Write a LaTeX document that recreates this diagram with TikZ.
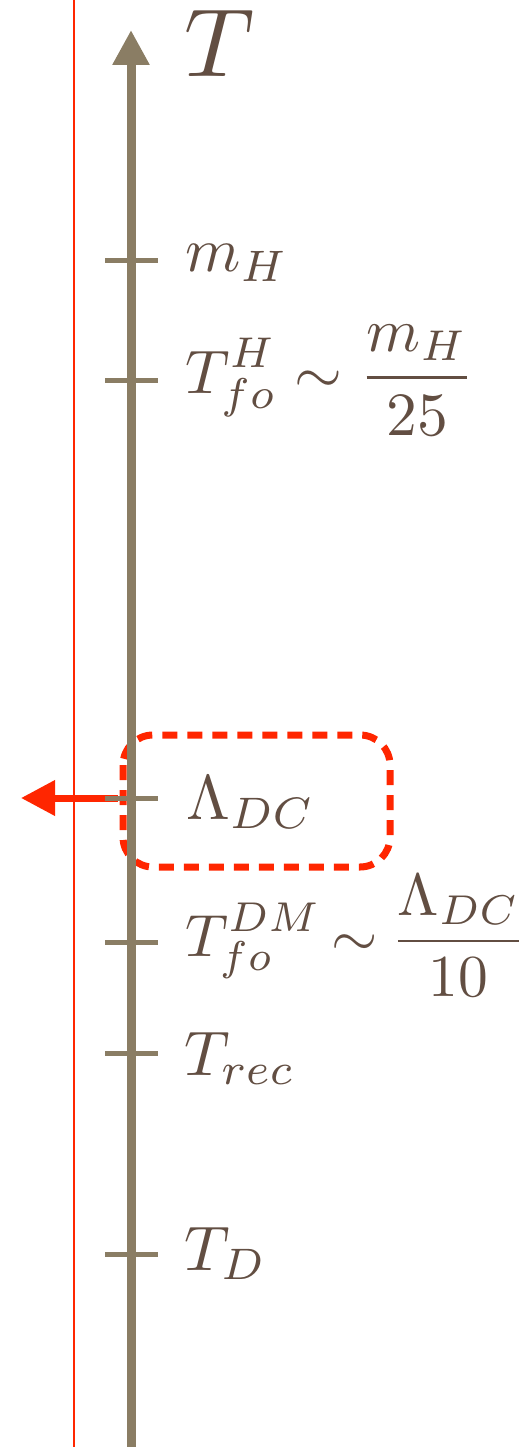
\documentclass[tikz,border=0pt]{standalone}
\usepackage{amsmath}
\usepackage{graphicx}
\usetikzlibrary{arrows.meta}
\definecolor{axiscol}{RGB}{138,125,100}
\definecolor{txtcol}{RGB}{98,78,66}
\definecolor{redcol}{RGB}{255,38,0}
\newcommand{\lblsz}[1]{\scalebox{6.3}{#1}}
\newcommand{\fracsz}[1]{\scalebox{5.95}{#1}}
\newcommand{\fracHsz}[1]{\scalebox{6.15}{#1}}
\newcommand{\bigsz}[1]{\scalebox{9.7}{#1}}
\begin{document}
\begin{tikzpicture}[x=1pt,y=-1pt,
  lbl/.style={anchor=base west,inner sep=0pt,text=txtcol},
  tick/.style={draw=axiscol,line width=5pt},
  axisline/.style={draw=axiscol,line width=9pt,-{Triangle[length=35pt,width=35pt]}},
  redthin/.style={draw=redcol,line width=2pt},
  redarrow/.style={draw=redcol,line width=7pt,-{Triangle[length=34pt,width=34pt]}},
  dashbox/.style={draw=redcol,line width=7pt,dash pattern=on 15pt off 10pt,rounded corners=30pt}]
\useasboundingbox (0,0) rectangle (523,1447);
% coordinates
\coordinate (redtop) at (74,0);
\coordinate (redbot) at (74,1447);
\coordinate (axbot) at (131,1447);
\coordinate (axtop) at (131,30);
\coordinate (arrstart) at (118,798);
\coordinate (arrend) at (21,798);
\coordinate (boxa) at (123,735);
\coordinate (boxb) at (390,867);
\foreach \n/\y in {mh/260,tfh/380,ldc/798,tfdm/942,trec/1053,td/1254}{
  \coordinate (\n L) at (105,\y);
  \coordinate (\n R) at (158,\y);
}
% red vertical line
\draw[redthin] (redtop) -- (redbot);
% red arrow
\draw[redarrow] (arrstart) -- (arrend);
% dashed box
\draw[dashbox] (boxa) rectangle (boxb);
% axis
\draw[axisline] (axbot) -- (axtop);
% ticks
\foreach \n in {mh,tfh,ldc,tfdm,trec,td}{
  \draw[tick] (\n L) -- (\n R);
}
% labels
\node[lbl] (Tlab) at (184,77) {\bigsz{$T$}};
\node[lbl] (mhlab) at (185,272) {\lblsz{$m_H$}};
\node[lbl] (tfhlab) at (185,393) {\fracHsz{$\displaystyle T^H_{fo}\sim\frac{m_H}{25}$}};
\node[lbl] (ldclab) at (186,819) {\lblsz{$\Lambda_{DC}$}};
\node[lbl] (tfdmlab) at (185,956) {\fracsz{$\displaystyle T^{DM}_{fo}\mkern-2mu\sim\mkern-1mu\frac{\Lambda_{DC}}{10}$}};
\node[lbl] (treclab) at (184,1075) {\lblsz{$T_{rec}$}};
\node[lbl] (tdlab) at (184,1270) {\lblsz{$T_D$}};
\end{tikzpicture}
\end{document}
